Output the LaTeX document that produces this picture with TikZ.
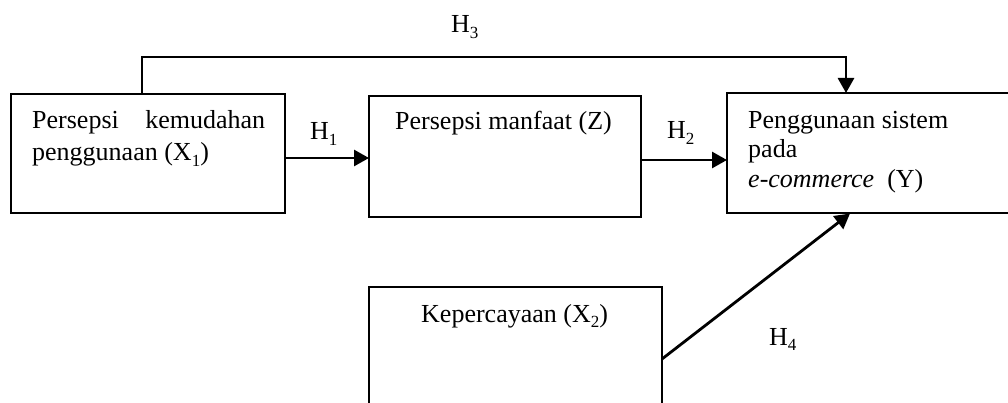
\documentclass[tikz,border=0pt]{standalone}
\usepackage{fontspec}
\setmainfont{Liberation Serif}
\usetikzlibrary{arrows.meta}
\newcommand{\mysubx}[1]{\raisebox{-0.22em}{\fontsize{17}{17}\selectfont #1}}
\begin{document}
\begin{tikzpicture}[x=1pt,y=-1pt,
  boxst/.style={draw=black,line width=1.3pt,anchor=north west,inner sep=0pt,outer sep=0pt},
  txt/.style={anchor=base west,inner sep=0pt,font=\fontsize{26}{30}\selectfont},
  thickarrow/.style={line width=2.8pt,-{Triangle[length=15pt,width=16pt]}},
  thinline/.style={line width=1.5pt}]
\useasboundingbox (0,0) rectangle (1008,403);
\clip (0,0) rectangle (1008,403);
% boxes
\node[boxst,minimum width=274pt,minimum height=119pt] (b1) at (11,94) {};
\node[boxst,minimum width=272pt,minimum height=121pt] (b2) at (369,96) {};
\node[boxst,minimum width=300pt,minimum height=120pt] (b3) at (727,93) {};
\node[boxst,minimum width=293pt,minimum height=140pt] (b4) at (369,287) {};
% texts
\node[txt] (t1a) at (32,129) {\hbox to 233pt{Persepsi\hfill kemudahan}};
\node[txt] (t1b) at (32,161) {penggunaan (X\mysubx{1})};
\node[txt] (t2) at (395,130) {Persepsi manfaat (Z)};
\node[txt] (t3a) at (748,129) {Penggunaan sistem};
\node[txt] (t3b) at (748,158) {pada};
\node[txt] (t3c) at (748,188) {\textit{e-commerce}\ \ (Y)};
\node[txt] (t4) at (421,322) {Kepercayaan (X\mysubx{2})};
% labels
\node[txt] (h3) at (451,33) {H\mysubx{3}};
\node[txt] (h1) at (310,140) {H\mysubx{1}};
\node[txt] (h2) at (667,139) {H\mysubx{2}};
\node[txt] (h4) at (769,345) {H\mysubx{4}};
% connectors
\coordinate (c1) at (142,57);
\coordinate (c2) at (846,57);
\draw[thinline] (b1.north -| c1) -- (c1) -- ([xshift=0.7pt]c2);
\draw[thickarrow] ([yshift=-0.7pt]c2) -- (b3.north -| c2);
\draw[thickarrow] (b1.east |- 0,158) -- (b2.west |- 0,158);
\draw[thickarrow] (b2.east |- 0,160) -- (b3.west |- 0,160);
\draw[thickarrow] (b4.east |- 0,359) -- (850,213.5);
\end{tikzpicture}
\end{document}
